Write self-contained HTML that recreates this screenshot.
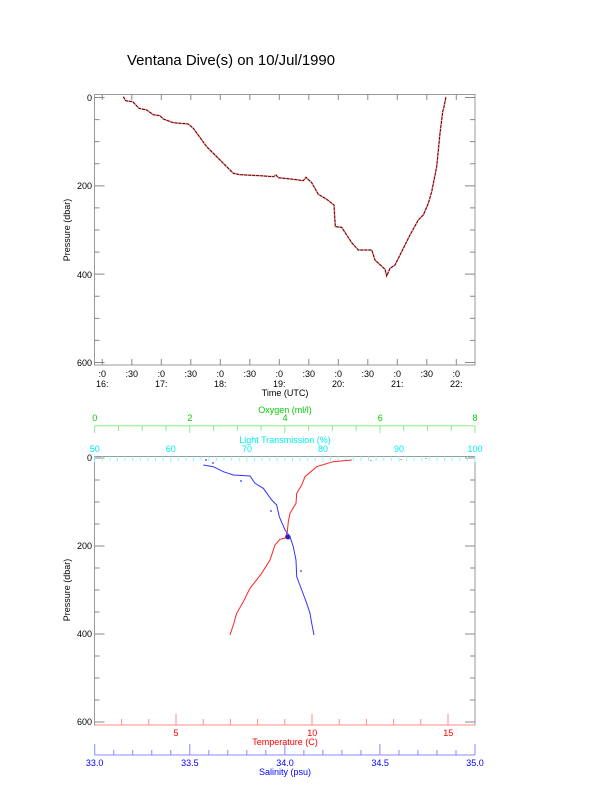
<!DOCTYPE html>
<html><head><meta charset="utf-8"><style>
body{margin:0;background:#fff;}
svg{display:block;font-family:"Liberation Sans",sans-serif;}
</style></head><body>
<svg id="s" width="612" height="785" viewBox="0 0 612 785" xmlns="http://www.w3.org/2000/svg">
<text x="127" y="65" font-size="15" fill="#000" textLength="208" lengthAdjust="spacingAndGlyphs">Ventana Dive(s) on 10/Jul/1990</text>
<rect x="94.5" y="94.5" width="380.5" height="270.5" fill="none" stroke="#999" stroke-width="1"/>
<g font-size="9" fill="#000" text-anchor="end">
<text x="92" y="101">0</text><text x="92" y="189">200</text><text x="92" y="278">400</text><text x="92" y="366">600</text>
</g>
<text transform="translate(70,230) rotate(-90)" font-size="9" text-anchor="middle">Pressure (dbar)</text>
<g id="tlab" font-size="9" text-anchor="middle"></g>
<text x="285" y="396" font-size="9" text-anchor="middle">Time (UTC)</text>
<polyline fill="none" stroke="#f44" stroke-width="1.6" opacity="0.6" points="123.3,96.7 125.7,100.7 132.7,101.7 139,108.3 146.7,110 153.3,114.7 160,115.7 163.3,119 173.3,122.7 188.3,124 193.3,128.3 206.7,146.7 220,160 233.3,173.3 240,174.7 260,175.7 273.3,176.7 276,175 278.3,177.7 293.3,179.3 303.3,180.7 306,177.3 311.7,182.7 318.3,194.3 326.7,199.3 334,205 335.3,226.7 341.7,227.3 346.7,235 351.7,242.7 358.3,250 371.7,250 375,260 385,269.3 386.7,276 390,268.3 395,265 400,255 410,235 418.3,220 423.3,215 428.3,203.3 431.7,191.7 436.7,166.7 440,133.3 442.7,111.7 444,106.7 446,96.7"/>
<polyline fill="none" stroke="#400" stroke-width="0.9" stroke-dasharray="3,1" points="123.3,96.7 125.7,100.7 132.7,101.7 139,108.3 146.7,110 153.3,114.7 160,115.7 163.3,119 173.3,122.7 188.3,124 193.3,128.3 206.7,146.7 220,160 233.3,173.3 240,174.7 260,175.7 273.3,176.7 276,175 278.3,177.7 293.3,179.3 303.3,180.7 306,177.3 311.7,182.7 318.3,194.3 326.7,199.3 334,205 335.3,226.7 341.7,227.3 346.7,235 351.7,242.7 358.3,250 371.7,250 375,260 385,269.3 386.7,276 390,268.3 395,265 400,255 410,235 418.3,220 423.3,215 428.3,203.3 431.7,191.7 436.7,166.7 440,133.3 442.7,111.7 444,106.7 446,96.7"/>

<rect x="94.5" y="456.5" width="380.5" height="268.5" fill="none" stroke="#999" stroke-width="1"/>
<g font-size="9" fill="#000" text-anchor="end">
<text x="92" y="461">0</text><text x="92" y="549">200</text><text x="92" y="637">400</text><text x="92" y="725">600</text>
</g>
<text transform="translate(70,590) rotate(-90)" font-size="9" text-anchor="middle">Pressure (dbar)</text>
<g id="ax2"></g>
<g font-size="9" text-anchor="middle">
<text x="285" y="413" fill="#0c0">Oxygen (ml/l)</text>
<text x="94.7" y="421" fill="#0c0">0</text><text x="189.9" y="421" fill="#0c0">2</text><text x="285" y="421" fill="#0c0">4</text><text x="380.2" y="421" fill="#0c0">6</text><text x="475" y="421" fill="#0c0">8</text>
<text x="285" y="443" fill="#0ee">Light Transmission (%)</text>
<text x="94.7" y="452" fill="#0ee">50</text><text x="170.8" y="452" fill="#0ee">60</text><text x="247" y="452" fill="#0ee">70</text><text x="323" y="452" fill="#0ee">80</text><text x="399" y="452" fill="#0ee">90</text><text x="475" y="452" fill="#0ee">100</text>
<text x="176" y="736" fill="#f00">5</text><text x="312.3" y="736" fill="#f00">10</text><text x="448.3" y="736" fill="#f00">15</text>
<text x="285" y="745" fill="#f00">Temperature (C)</text>
<text x="94.7" y="766" fill="#00f">33.0</text><text x="189.9" y="766" fill="#00f">33.5</text><text x="285" y="766" fill="#00f">34.0</text><text x="380.2" y="766" fill="#00f">34.5</text><text x="475" y="766" fill="#00f">35.0</text>
<text x="285" y="775" fill="#00f">Salinity (psu)</text>
</g>
<polyline fill="none" stroke="#f22" stroke-width="1" points="351.7,460 333,461.7 316.7,466.7 305,476.7 301.7,485 296.7,493.3 296,503.3 290,513.3 288.3,521.7 287.3,531.7 285,538.3 280,539.3 275,545 270,560 261.7,573.3 250,588.3 243.3,601.7 236.7,613.3 233.3,625 230,635"/>
<polyline fill="none" stroke="#33f" stroke-width="1" points="203.3,465 213.3,466.7 223.3,471.7 233.3,475 250,476 255,483.3 263.3,488.3 271.7,500 276.7,505 279.3,516.7 285,530 290,536.7 293.3,546.7 296,560 296.7,576.7 301.7,590 306.7,603.3 310,613.3 311.7,623.3 314,635"/>
<circle cx="288" cy="537" r="2.5" fill="#22c"/>
<g fill="#88f"><rect x="205" y="459" width="2" height="2"/><rect x="212" y="462" width="2" height="2"/><rect x="240" y="480" width="2" height="2"/><rect x="270" y="510" width="2" height="2"/><rect x="300" y="570" width="2" height="2"/></g>
<g fill="#f99"><rect x="370" y="460" width="2" height="1"/><rect x="400" y="459" width="2" height="1"/><rect x="425" y="458" width="2" height="1"/></g>
</svg>
<script>
var s=document.getElementById('ax2'),t=document.getElementById('tlab'),NS='http://www.w3.org/2000/svg',c={};
function L(col,x1,y1,x2,y2){(c[col]=c[col]||[]).push('M'+x1+' '+y1+'L'+x2+' '+y2);}
for(var p=0;p<=600;p+=50){var y=97.5+p*0.4417,l=p%200==0?10:5;L('#888',94.5,y,94.5+l,y);L('#888',475,y,475-l,y);}
for(var k=0;k<=12;k++){var x=102.3+29.5*k;L('#888',x,365,x,359);L('#888',x,94.5,x,100);
 var a=document.createElementNS(NS,'text');a.setAttribute('x',x);a.setAttribute('y',377);a.textContent=k%2?':30':':0';t.appendChild(a);
 if(k%2==0){var b=document.createElementNS(NS,'text');b.setAttribute('x',x);b.setAttribute('y',387);b.textContent=(16+k/2)+':';t.appendChild(b);}}
for(p=0;p<=600;p+=50){y=458+p*0.44;l=p%200==0?10:5;L('#888',94.5,y,94.5+l,y);L('#888',475,y,475-l,y);}
L('#8e8',94.7,425.7,475,425.7);for(var o=0;o<=16;o++){x=94.7+o*23.77;L('#8e8',x,425.7,x,o%4==0?433:431);}
for(o=0;o<=50;o++){x=94.7+o*7.606;L('#8ff',x,456.5,x,o%10==0?462:461);}
L('#f88',94.7,725,475,725);for(o=3;o<=15;o++){x=176+27.2*(o-5);L('#f88',x,725,x,o%5==0?714:719);}
L('#88f',94.7,755,475,755);for(o=0;o<=20;o++){x=94.7+o*19.015;L('#88f',x,755,x,o%5==0?744:750);}
for(var k2 in c){var pth=document.createElementNS(NS,'path');pth.setAttribute('d',c[k2].join(''));pth.setAttribute('stroke',k2);pth.setAttribute('fill','none');s.appendChild(pth);}
</script>
</body></html>
